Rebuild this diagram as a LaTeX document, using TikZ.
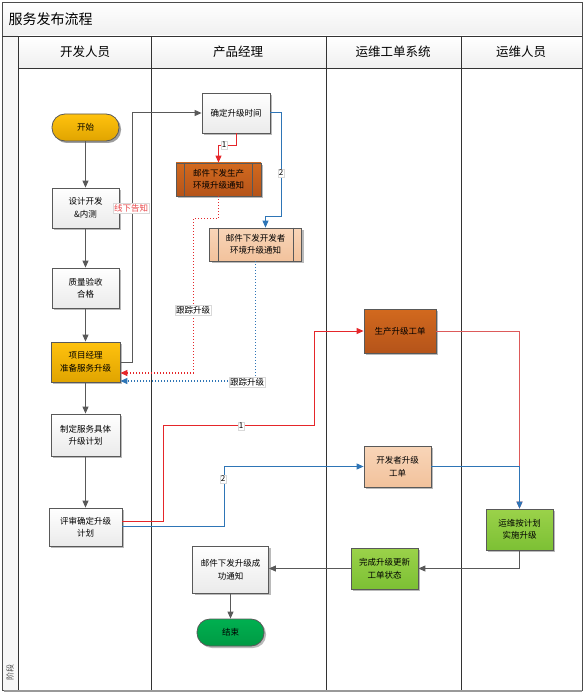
\documentclass[tikz,border=0pt]{standalone}
\usepackage{fontspec}
\setmainfont{Noto Sans CJK SC}
\usetikzlibrary{arrows.meta,shadows,calc}
\definecolor{lg}{HTML}{595959}
\definecolor{rd}{HTML}{E5262A}
\definecolor{rdl}{HTML}{DD5A5A}
\definecolor{bl}{HTML}{2E75B6}
\definecolor{goldA}{HTML}{FFC20E}
\definecolor{goldB}{HTML}{E0A400}
\definecolor{orA}{HTML}{D2691E}
\definecolor{orB}{HTML}{B5541A}
\definecolor{peA}{HTML}{F8D5B8}
\definecolor{peB}{HTML}{F2C29C}
\definecolor{grA}{HTML}{9BD24A}
\definecolor{grB}{HTML}{7CC034}
\definecolor{enA}{HTML}{00B050}
\definecolor{enB}{HTML}{009A44}
\tikzset{
  x=1pt, y=-1pt,
  box/.style={draw=black!65, line width=0.8pt, align=center, inner sep=1pt,
    font=\fontsize{8.5}{12.5}\selectfont,
    top color=white, bottom color=black!8,
    drop shadow={shadow xshift=2pt, shadow yshift=-2pt, fill=black!45, opacity=0.6}},
  sz/.style 2 args={minimum width=#1pt, minimum height=#2pt},
  goldbox/.style={box, top color=goldA, bottom color=goldB},
  orbox/.style={box, top color=orA, bottom color=orB},
  pebox/.style={box, top color=peA, bottom color=peB},
  grbox/.style={box, top color=grA, bottom color=grB},
  pill/.style={box, rounded corners=13pt},
  flow/.style={draw=lg, line width=1pt, -{Triangle[length=7pt,width=6pt]}},
  redflow/.style={flow, draw=rd, -{Triangle[length=7pt,width=6pt,fill=rd]}},
  redlflow/.style={flow, draw=rdl, -{Triangle[length=7pt,width=6pt,fill=rd]}},
  blueflow/.style={flow, draw=bl, -{Triangle[length=7pt,width=6pt,fill=bl]}},
  dotred/.style={redflow, dotted, line width=1.1pt},
  dotblue/.style={blueflow, dotted, line width=1.1pt},
  lbl/.style={fill=white, draw=black!15, inner sep=1pt, font=\fontsize{8.5}{10}\selectfont},
  hdr/.style={font=\fontsize{12.5}{14}\selectfont},
  lane/.style={draw=black!80, line width=0.8pt}
}
\begin{document}
\begin{tikzpicture}
\useasboundingbox (0,0) rectangle (586,695);
% frame and title
\shade[top color=white, bottom color=black!6] (2,2) rectangle (582,36);
\shade[top color=white, bottom color=black!6] (18,36) rectangle (582,68);
\fill[black!3] (2,36) rectangle (18,690);
\draw[black!70, line width=0.8pt] (2,2) rectangle (582,690);
\draw[black!40, line width=2pt] (4,691) -- (582,691);
\draw[lane] (2,36) -- (582,36);
\draw[lane] (18,68) -- (582,68);
\draw[lane] (18,36) -- (18,690);
\draw[lane] (151,36) -- (151,690);
\draw[lane] (326,36) -- (326,690);
\draw[lane] (461,36) -- (461,690);
\node[anchor=west, font=\fontsize{14}{16}\selectfont] (title) at (5,19) {服务发布流程};
\node[hdr] (h1) at (85,52) {开发人员};
\node[hdr] (h2) at (238,52) {产品经理};
\node[hdr] (h3) at (393,52) {运维工单系统};
\node[hdr] (h4) at (521,52) {运维人员};
\node[rotate=90, font=\fontsize{8}{9}\selectfont, text=black!70] (phase) at (10,672) {阶段};
% nodes
\node[pill, goldbox, rounded corners=13pt, sz={67}{27}] (start) at (85.5,127.5) {开始};
\node[box, sz={67}{40}] (design) at (85.5,208) {设计开发\\\&内测};
\node[box, sz={67}{40}] (qa) at (85.5,288) {质量验收\\合格};
\node[goldbox, sz={69}{40}] (pm) at (85.5,362) {项目经理\\准备服务升级};
\node[box, sz={69}{42}] (plan) at (85.5,435) {制定服务具体\\升级计划};
\node[box, sz={73}{38}] (review) at (85.5,527) {评审确定升级\\计划};
\node[box, sz={68}{40}] (time) at (236,113) {确定升级时间};
\node[orbox, sz={85}{33}] (mailp) at (218.5,179.5) {邮件下发生产\\环境升级通知};
\draw[black!65, line width=0.8pt] ($(mailp.north west)+(9,0)$) -- ($(mailp.south west)+(9,0)$)
  ($(mailp.north east)+(-9,0)$) -- ($(mailp.south east)+(-9,0)$);
\node[pebox, sz={92}{33}] (maild) at (255.5,244.5) {邮件下发开发者\\环境升级通知};
\draw[black!65, line width=0.8pt] ($(maild.north west)+(9,0)$) -- ($(maild.south west)+(9,0)$)
  ($(maild.north east)+(-9,0)$) -- ($(maild.south east)+(-9,0)$);
\node[orbox, sz={72}{44}] (gen) at (400,331) {生产升级工单};
\node[pebox, sz={67}{41}] (devt) at (397.5,466.5) {开发者升级\\工单};
\node[grbox, sz={67}{41}] (impl) at (519.5,529.5) {运维按计划\\实施升级};
\node[grbox, sz={67}{41}] (done) at (384.5,568.5) {完成升级更新\\工单状态};
\node[box, sz={76}{47}] (succ) at (230.5,569.5) {邮件下发升级成\\功通知};
\node[pill, top color=enA, bottom color=enB, sz={67}{27}] (end) at (230.5,632.5) {结束};
% vertical flow
\draw[flow] (start) -- (design);
\draw[flow] (design) -- (qa);
\draw[flow] (qa) -- (pm);
\draw[flow] (pm) -- (plan);
\draw[flow] (plan) -- (review);
% pm to time
\draw[flow] (pm.east) -- ++(12,0) |- (time.west);
\node[lbl, text=rd!85] (l0) at (131,208) {线下告知};
% time branches
\draw[redflow] (time.south) -- ++(0,12) -| (mailp.north);
\node[lbl, font=\fontsize{8}{9}\selectfont] (l1) at (224,145) {1};
\draw[blueflow] (time.east) -- ++(11,0) -- ++(0,103) -| ($(maild.north)+(10,0)$);
\node[lbl, font=\fontsize{8}{9}\selectfont] (l2) at (281,173) {2};
% tracking
\draw[dotred] (mailp.south) -- ++(0,22) -- ++(-25,0) |- ($(pm.east)+(0,11)$);
\node[lbl] (l3) at (193,310) {跟踪升级};
\draw[dotblue] (maild.south) |- ($(pm.east)+(0,19)$);
\node[lbl] (l4) at (247,382) {跟踪升级};
% review to tickets
\draw[redflow] ($(review.east)+(0,-6)$) -- ++(41,0) -- ++(0,-96) -- ++(151,0) |- (gen.west);
\node[lbl, font=\fontsize{8}{9}\selectfont] (l5) at (241,426) {1};
\draw[blueflow] ($(review.east)+(0,-1)$) -- ++(102,0) |- (devt.west);
\node[lbl, font=\fontsize{8}{9}\selectfont] (l6) at (223,479) {2};
% tickets to ops
\draw[redlflow] (gen.east) -| (impl.north);
\draw[blueflow] (devt.east) -| (impl.north);
% end flow
\draw[flow] (impl.south) |- (done.east);
\draw[flow] (done.west) -- (done.west -| succ.east);
\draw[flow] (succ.south) -- (end.north);
\end{tikzpicture}
\end{document}
